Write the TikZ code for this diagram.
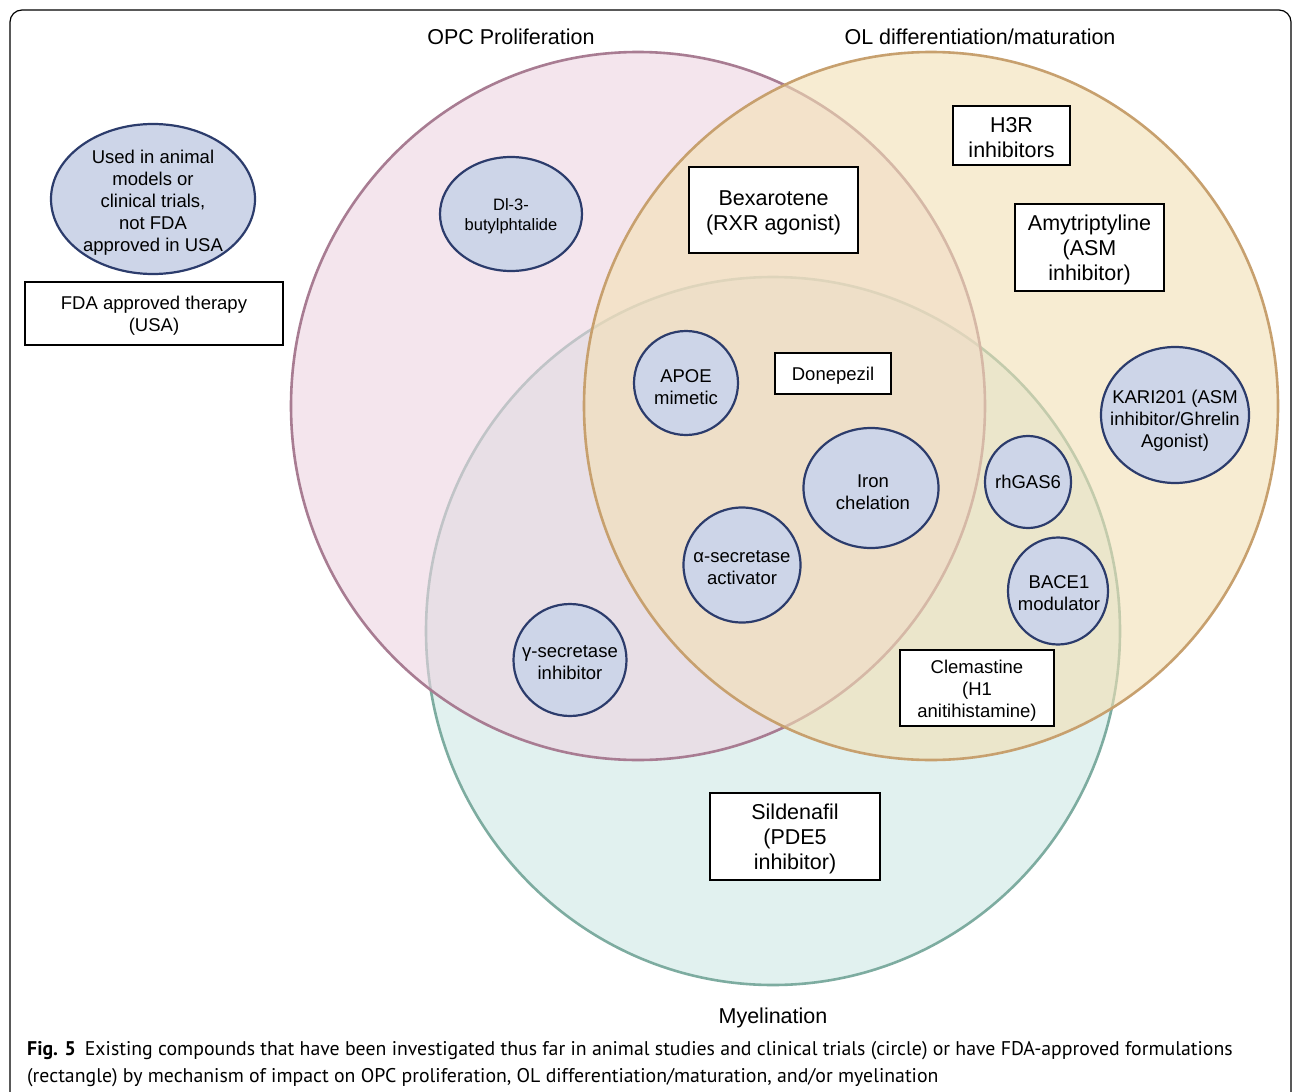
\documentclass[tikz,border=0pt]{standalone}
\usepackage{fontspec}
\setmainfont{Liberation Sans}
\newfontfamily\capfont{PT Sans}
\usetikzlibrary{shapes.geometric}
\definecolor{navy}{RGB}{44,60,108}
\definecolor{lav}{RGB}{205,213,232}
\definecolor{pinkfill}{RGB}{238,212,225}
\definecolor{pinkline}{RGB}{168,124,146}
\definecolor{yelfill}{RGB}{243,224,180}
\definecolor{yelline}{RGB}{199,160,110}
\definecolor{grnfill}{RGB}{206,233,229}
\definecolor{grnline}{RGB}{125,172,160}
\begin{document}
\begin{tikzpicture}[x=1pt,y=-1pt,
  venn/.style={line width=2.6pt, fill opacity=0.6},
  trial/.style={ellipse, draw=navy, fill=lav, line width=2.2pt, inner sep=0pt},
  fda/.style={rectangle, draw=black, fill=white, line width=2pt, inner sep=0pt},
  lbl/.style={align=center, inner sep=0pt, text=black, yshift=-2.5pt},
  fs/.style={font=\fontsize{18.5}{22}\selectfont},
  fm/.style={font=\fontsize{21.5}{25}\selectfont},
  fsm/.style={font=\fontsize{16.5}{20}\selectfont},
]
\useasboundingbox (0,0) rectangle (1293,1092);
\fill[white] (0,0) rectangle (1293,1092);
% frame
\draw[line width=1.2pt, rounded corners=12pt] (10,1100) -- (10,10) -- (1291,10) -- (1291,1100);
% Venn circles
\draw[venn, draw=grnline, fill=grnfill] (773,631) ellipse[x radius=347, y radius=354];
\draw[venn, draw=pinkline, fill=pinkfill] (638,406) ellipse[x radius=347, y radius=354];
\draw[venn, draw=yelline, fill=yelfill] (931,406) ellipse[x radius=347, y radius=354];
% set labels
\node[lbl, fm] (lopc) at (511,34) {OPC Proliferation};
\node[lbl, fm] (lol) at (980,34) {OL differentiation/maturation};
\node[lbl, fm] (lmy) at (773,1015) {Myelination};
% legend
\node[trial, minimum width=204, minimum height=150] (leg1) at (153,199) {};
\node[lbl, fs] (leg1t) at (153,200) {Used in animal\\models or\\clinical trials,\\not FDA\\approved in USA};
\node[fda, minimum width=258, minimum height=63] (leg2) at (154,313.5) {};
\node[lbl, fs] (leg2t) at (leg2) {FDA approved therapy\\(USA)};
% circles (trials)
\node[trial, minimum width=142, minimum height=114] (dib) at (511,214) {};
\node[lbl, fsm] (dibt) at (dib) {Dl-3-\\butylphtalide};
\node[trial, minimum width=104, minimum height=104] (apoe) at (686,383) {};
\node[lbl, fs] (apoet) at (686,385) {APOE\\mimetic};
\node[trial, minimum width=135, minimum height=120] (iron) at (871,488) {};
\node[lbl, fs] (iront) at (873,490) {Iron\\chelation};
\node[trial, minimum width=117, minimum height=115] (asec) at (742,565) {};
\node[lbl, fs] (asect) at (742,565) {α-secretase\\activator};
\node[trial, minimum width=113, minimum height=112] (gsec) at (570,660) {};
\node[lbl, fs] (gsect) at (570,660) {γ-secretase\\inhibitor};
\node[trial, minimum width=86, minimum height=92] (gas) at (1028,482) {};
\node[lbl, fs] (gast) at (1028,479) {rhGAS6};
\node[trial, minimum width=100, minimum height=107] (bace) at (1058,591) {};
\node[lbl, fs] (bacet) at (1059,591) {BACE1\\modulator};
\node[trial, minimum width=148, minimum height=136] (kari) at (1175,415) {};
\node[lbl, fs] (karit) at (1175,418) {KARI201 (ASM\\inhibitor/Ghrelin\\Agonist)};
% rectangles (FDA approved)
\node[fda, minimum width=169, minimum height=86] (bex) at (773.5,210) {};
\node[lbl, fm] (bext) at (bex) {Bexarotene\\(RXR agonist)};
\node[fda, minimum width=117, minimum height=59] (h3r) at (1011.5,135.5) {};
\node[lbl, fm] (h3rt) at (h3r) {H3R\\inhibitors};
\node[fda, minimum width=149, minimum height=87] (amy) at (1089.5,247) {};
\node[lbl, fm] (amyt) at (amy) {Amytriptyline\\(ASM\\inhibitor)};
\node[fda, minimum width=116, minimum height=41] (don) at (833,373.5) {};
\node[lbl, fs] (dont) at (don) {Donepezil};
\node[fda, minimum width=154, minimum height=76] (clem) at (977,688) {};
\node[lbl, fs] (clemt) at (clem) {Clemastine\\(H1\\anitihistamine)};
\node[fda, minimum width=170, minimum height=87] (sil) at (795,836.5) {};
\node[lbl, fm] (silt) at (sil) {Sildenafil\\(PDE5\\inhibitor)};
% caption
\node[anchor=base west, inner sep=0pt, font=\capfont\fontsize{19.8}{27}\selectfont] (cap1) at (27,1055) {\textbf{Fig. 5}\hspace{0.45em}Existing compounds that have been investigated thus far in animal studies and clinical trials (circle) or have FDA-approved formulations};
\node[anchor=base west, inner sep=0pt, font=\capfont\fontsize{19.8}{27}\selectfont] (cap2) at (27,1082) {(rectangle) by mechanism of impact on OPC proliferation, OL differentiation/maturation, and/or myelination};
\end{tikzpicture}
\end{document}
